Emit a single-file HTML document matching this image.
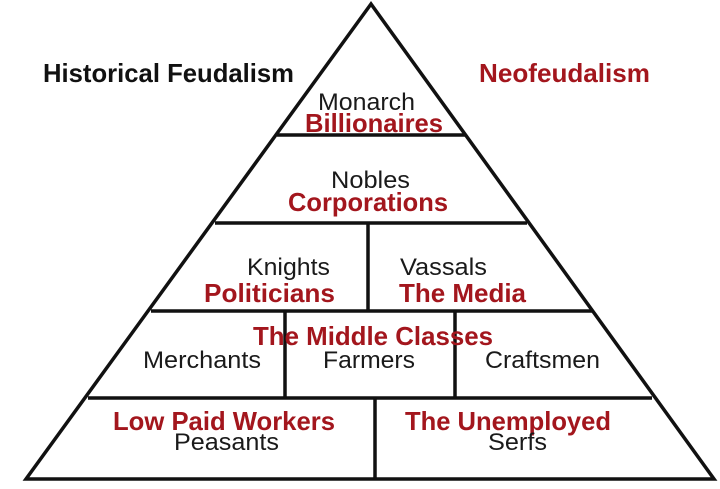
<!DOCTYPE html>
<html><head><meta charset="utf-8"><style>
html,body{margin:0;padding:0;background:#fff;}
svg{display:block;}
.b{font-family:"Liberation Sans Narrow","Liberation Sans",sans-serif;font-size:24px;fill:#1a1a1a;}
.r{font-family:"Liberation Sans Narrow","Liberation Sans",sans-serif;font-size:26px;font-weight:bold;fill:#a3161d;}
.k{font-family:"Liberation Sans Narrow","Liberation Sans",sans-serif;font-size:26px;font-weight:bold;fill:#111;}
</style></head><body>
<svg width="720" height="489" viewBox="0 0 720 489" xmlns="http://www.w3.org/2000/svg">
<rect width="720" height="489" fill="#fff"/>
<g stroke="#111" stroke-width="3.5" fill="none">
<polygon points="371,4 26,479 714,479" stroke-linejoin="miter"/>
<line x1="277" y1="135" x2="465" y2="135"/>
<line x1="215" y1="223" x2="527" y2="223"/>
<line x1="151" y1="311" x2="592" y2="311"/>
<line x1="88" y1="398" x2="652" y2="398"/>
<line x1="368" y1="223" x2="368" y2="311"/>
<line x1="285" y1="311" x2="285" y2="398"/>
<line x1="455" y1="311" x2="455" y2="398"/>
<line x1="375" y1="398" x2="375" y2="479"/>
</g>
<text class="k" x="43" y="82" textLength="251" lengthAdjust="spacingAndGlyphs">Historical Feudalism</text>
<text class="r" x="479" y="82" textLength="171" lengthAdjust="spacingAndGlyphs">Neofeudalism</text>
<text class="b" x="318" y="110" textLength="97" lengthAdjust="spacingAndGlyphs">Monarch</text>
<text class="r" x="305" y="132" textLength="138" lengthAdjust="spacingAndGlyphs">Billionaires</text>
<text class="b" x="331" y="188" textLength="79" lengthAdjust="spacingAndGlyphs">Nobles</text>
<text class="r" x="288" y="211" textLength="160" lengthAdjust="spacingAndGlyphs">Corporations</text>
<text class="b" x="247" y="275" textLength="83" lengthAdjust="spacingAndGlyphs">Knights</text>
<text class="r" x="204" y="302" textLength="131" lengthAdjust="spacingAndGlyphs">Politicians</text>
<text class="b" x="400" y="275" textLength="87" lengthAdjust="spacingAndGlyphs">Vassals</text>
<text class="r" x="399" y="302" textLength="127" lengthAdjust="spacingAndGlyphs">The Media</text>
<text class="r" x="253" y="345" textLength="240" lengthAdjust="spacingAndGlyphs">The Middle Classes</text>
<text class="b" x="143" y="368" textLength="118" lengthAdjust="spacingAndGlyphs">Merchants</text>
<text class="b" x="323" y="368" textLength="92" lengthAdjust="spacingAndGlyphs">Farmers</text>
<text class="b" x="485" y="368" textLength="115" lengthAdjust="spacingAndGlyphs">Craftsmen</text>
<text class="r" x="113" y="430" textLength="222" lengthAdjust="spacingAndGlyphs">Low Paid Workers</text>
<text class="b" x="174" y="450" textLength="105" lengthAdjust="spacingAndGlyphs">Peasants</text>
<text class="r" x="405" y="430" textLength="206" lengthAdjust="spacingAndGlyphs">The Unemployed</text>
<text class="b" x="488" y="450" textLength="59" lengthAdjust="spacingAndGlyphs">Serfs</text>
</svg>
</body></html>
